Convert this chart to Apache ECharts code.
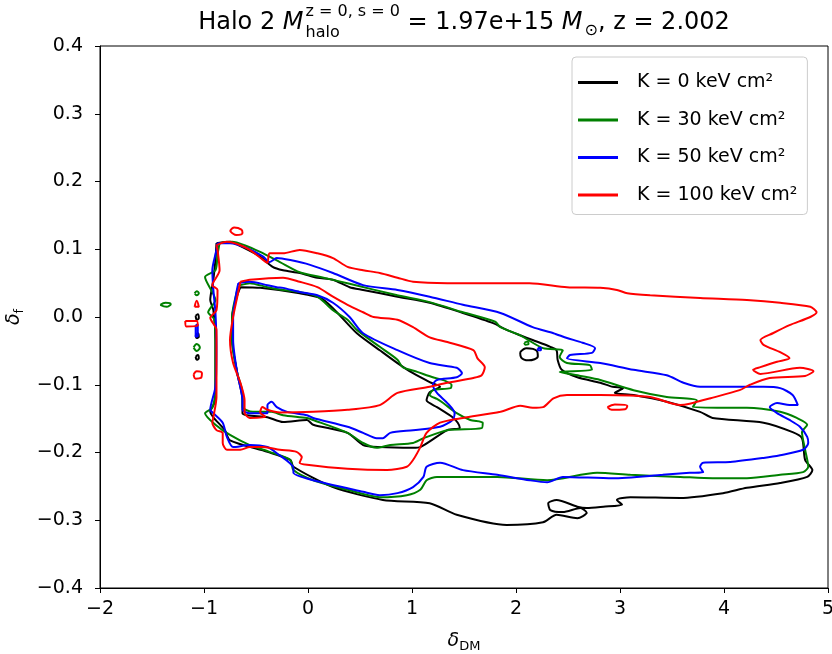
<!DOCTYPE html>
<html>
<head>
<meta charset="UTF-8">
<title>Halo 2 contours</title>
<style>
  body { margin: 0; background: #fff; }
  #chart { width: 832px; height: 654px; }
</style>
<script src="https://cdn.jsdelivr.net/npm/echarts@6/dist/echarts.min.js"></script>
</head>
<body>
<div id="chart"></div>
<script>
// legend labels, one per entropy floor
var labels = ['K = 0 keV cm\u00b2', 'K = 30 keV cm\u00b2', 'K = 50 keV cm\u00b2', 'K = 100 keV cm\u00b2'];
var colors = ['#000000', '#008000', '#0000ff', '#ff0000'];
var xTicks = [-2, -1, 0, 1, 2, 3, 4, 5];
var yTicks = [-0.4, -0.3, -0.2, -0.1, 0.0, 0.1, 0.2, 0.3, 0.4];

// K = 0 contours (delta_DM, delta_f)
var k0Outer = [[-0.88,0.109],[-0.75,0.111],[-0.63,0.103],[-0.46,0.089],[-0.34,0.074],[-0.24,0.069],[-0.08,0.065],[0.09,0.058],[0.24,0.055],[0.40,0.044],[0.53,0.040],[0.86,0.030],[1.17,0.021],[1.49,0.006],[1.78,-0.009],[1.91,-0.019],[2.04,-0.027],[2.16,-0.034],[2.33,-0.044],[2.39,-0.049],[2.40,-0.063],[2.44,-0.078],[2.59,-0.089],[2.81,-0.097],[2.93,-0.103],[3.03,-0.105],[2.95,-0.112],[3.13,-0.115],[3.45,-0.125],[3.77,-0.140],[3.89,-0.149],[4.38,-0.156],[4.66,-0.170],[4.75,-0.179],[4.78,-0.211],[4.85,-0.226],[4.80,-0.236],[4.54,-0.245],[4.22,-0.252],[3.99,-0.260],[3.58,-0.267],[3.10,-0.266],[2.97,-0.270],[3.02,-0.277],[2.84,-0.280],[2.68,-0.282],[2.59,-0.280],[2.39,-0.270],[2.31,-0.275],[2.33,-0.285],[2.45,-0.288],[2.62,-0.282],[2.68,-0.289],[2.59,-0.297],[2.39,-0.292],[2.26,-0.303],[1.91,-0.307],[1.43,-0.292],[1.17,-0.275],[0.72,-0.270],[0.24,-0.251],[-0.14,-0.221],[-0.17,-0.211],[-0.39,-0.199],[-0.75,-0.182],[-0.80,-0.167],[-0.91,-0.148],[-0.94,-0.140],[-0.89,-0.123],[-0.89,-0.078],[-0.89,-0.034],[-0.91,0.010],[-0.94,0.025],[-0.91,0.055],[-0.89,0.084],[-0.88,0.109]];
var k0Inner = [[-0.65,0.044],[-0.46,0.043],[-0.08,0.035],[0.12,0.028],[0.24,0.013],[0.47,-0.024],[0.69,-0.049],[0.86,-0.068],[1.01,-0.083],[1.17,-0.096],[1.27,-0.103],[1.17,-0.111],[1.14,-0.123],[1.24,-0.133],[1.39,-0.148],[1.44,-0.156],[1.46,-0.164],[1.34,-0.167],[1.08,-0.192],[1.01,-0.193],[0.69,-0.192],[0.53,-0.189],[0.38,-0.171],[0.05,-0.159],[-0.01,-0.152],[-0.24,-0.155],[-0.39,-0.148],[-0.63,-0.142],[-0.63,-0.123],[-0.68,-0.083],[-0.73,-0.034],[-0.73,0.000],[-0.68,0.032],[-0.65,0.044]];
var k0Blobs = [
  [[2.04,-0.052],[2.10,-0.046],[2.20,-0.050],[2.21,-0.058],[2.12,-0.064],[2.05,-0.060],[2.04,-0.052]],
  [[-1.08,0.002],[-1.06,0.004],[-1.05,-0.002],[-1.07,-0.004],[-1.08,0.002]],
  [[-1.08,-0.027],[-1.06,-0.024],[-1.05,-0.029],[-1.07,-0.031],[-1.08,-0.027]],
  [[-1.08,-0.059],[-1.06,-0.056],[-1.05,-0.061],[-1.07,-0.063],[-1.08,-0.059]]
];

// K = 30 contours
var k30Outer = [[-0.85,0.109],[-0.73,0.111],[-0.61,0.106],[-0.46,0.096],[-0.27,0.081],[-0.08,0.066],[0.12,0.059],[0.40,0.049],[0.86,0.032],[1.17,0.022],[1.49,0.007],[1.80,-0.007],[1.85,-0.015],[2.04,-0.027],[2.26,-0.046],[2.45,-0.049],[2.42,-0.059],[2.49,-0.068],[2.71,-0.071],[2.73,-0.078],[2.42,-0.081],[2.62,-0.087],[2.81,-0.093],[3.13,-0.108],[3.45,-0.118],[3.74,-0.123],[3.70,-0.133],[4.01,-0.134],[4.22,-0.134],[4.54,-0.140],[4.70,-0.149],[4.80,-0.159],[4.75,-0.170],[4.78,-0.196],[4.81,-0.221],[4.76,-0.229],[4.54,-0.233],[4.22,-0.238],[3.89,-0.238],[3.58,-0.236],[3.10,-0.233],[2.78,-0.230],[2.30,-0.241],[1.82,-0.236],[1.24,-0.236],[1.14,-0.241],[1.08,-0.255],[0.95,-0.263],[0.69,-0.266],[0.38,-0.255],[0.05,-0.241],[-0.14,-0.226],[-0.17,-0.211],[-0.37,-0.199],[-0.56,-0.189],[-0.75,-0.174],[-0.89,-0.159],[-0.99,-0.142],[-0.92,-0.134],[-0.89,-0.108],[-0.89,-0.049],[-0.90,-0.004],[-0.96,0.007],[-0.89,0.025],[-0.99,0.059],[-0.89,0.069],[-0.87,0.092],[-0.85,0.109]];
var k30Inner = [[-0.65,0.047],[-0.56,0.050],[-0.39,0.044],[-0.24,0.040],[-0.08,0.037],[0.09,0.030],[0.24,0.010],[0.38,-0.004],[0.47,-0.019],[0.69,-0.044],[0.86,-0.063],[0.91,-0.074],[1.05,-0.081],[1.20,-0.089],[1.30,-0.093],[1.38,-0.100],[1.37,-0.105],[1.20,-0.108],[1.17,-0.115],[1.24,-0.121],[1.30,-0.127],[1.43,-0.142],[1.56,-0.152],[1.68,-0.156],[1.67,-0.164],[1.34,-0.167],[1.11,-0.179],[1.01,-0.186],[0.79,-0.189],[0.66,-0.193],[0.53,-0.186],[0.38,-0.171],[0.05,-0.152],[-0.01,-0.149],[-0.24,-0.145],[-0.35,-0.140],[-0.53,-0.140],[-0.63,-0.133],[-0.63,-0.112],[-0.68,-0.083],[-0.73,-0.034],[-0.73,0.000],[-0.68,0.040],[-0.65,0.047]];
var k30Blobs = [
  [[-1.42,0.018],[-1.37,0.021],[-1.32,0.019],[-1.36,0.015],[-1.42,0.018]],
  [[-1.09,0.035],[-1.07,0.038],[-1.05,0.035],[-1.07,0.032],[-1.09,0.035]],
  [[-1.10,-0.045],[-1.07,-0.040],[-1.04,-0.045],[-1.07,-0.050],[-1.10,-0.045]],
  [[2.08,-0.038],[2.11,-0.036],[2.12,-0.040],[2.09,-0.041],[2.08,-0.038]]
];

// K = 50 contours
var k50Outer = [[-0.87,0.109],[-0.75,0.109],[-0.59,0.102],[-0.43,0.089],[-0.37,0.081],[-0.30,0.087],[-0.17,0.084],[0.02,0.077],[0.24,0.065],[0.53,0.047],[0.86,0.040],[1.17,0.030],[1.49,0.018],[1.85,0.006],[2.16,-0.015],[2.36,-0.024],[2.49,-0.031],[2.64,-0.038],[2.76,-0.046],[2.73,-0.053],[2.52,-0.056],[2.49,-0.061],[2.81,-0.068],[3.13,-0.078],[3.45,-0.086],[3.61,-0.097],[3.77,-0.103],[4.06,-0.103],[4.38,-0.103],[4.54,-0.105],[4.66,-0.115],[4.71,-0.130],[4.63,-0.130],[4.51,-0.127],[4.44,-0.133],[4.51,-0.142],[4.63,-0.152],[4.73,-0.162],[4.80,-0.177],[4.81,-0.186],[4.76,-0.196],[4.54,-0.204],[4.38,-0.208],[4.06,-0.214],[3.80,-0.215],[3.77,-0.221],[3.80,-0.229],[3.67,-0.230],[3.41,-0.233],[2.93,-0.238],[2.45,-0.236],[2.30,-0.244],[2.13,-0.241],[1.82,-0.233],[1.49,-0.226],[1.27,-0.215],[1.14,-0.221],[1.11,-0.236],[1.01,-0.251],[0.86,-0.260],[0.69,-0.263],[0.53,-0.258],[0.05,-0.241],[-0.14,-0.230],[-0.14,-0.223],[-0.30,-0.201],[-0.39,-0.192],[-0.56,-0.189],[-0.72,-0.192],[-0.78,-0.177],[-0.82,-0.156],[-0.91,-0.142],[-0.94,-0.137],[-0.89,-0.103],[-0.88,-0.044],[-0.89,0.006],[-0.91,0.040],[-0.92,0.069],[-0.88,0.099],[-0.87,0.109]];
var k50Inner = [[-0.67,0.050],[-0.56,0.052],[-0.39,0.047],[-0.30,0.044],[-0.24,0.043],[-0.08,0.037],[0.09,0.032],[0.24,0.021],[0.40,0.000],[0.53,-0.024],[0.86,-0.049],[1.17,-0.068],[1.43,-0.075],[1.48,-0.083],[1.43,-0.089],[1.24,-0.093],[1.20,-0.100],[1.24,-0.112],[1.34,-0.127],[1.41,-0.142],[1.39,-0.152],[1.27,-0.162],[1.01,-0.167],[0.79,-0.171],[0.72,-0.179],[0.66,-0.179],[0.53,-0.171],[0.38,-0.162],[0.05,-0.149],[-0.01,-0.145],[-0.20,-0.140],[-0.30,-0.133],[-0.35,-0.125],[-0.39,-0.130],[-0.39,-0.142],[-0.56,-0.142],[-0.63,-0.137],[-0.63,-0.123],[-0.68,-0.083],[-0.72,-0.034],[-0.72,0.000],[-0.69,0.035],[-0.67,0.050]];
var k50Blobs = [
  [[-1.08,-0.012],[-1.06,-0.011],[-1.06,-0.028],[-1.08,-0.029],[-1.08,-0.012]],
  [[2.21,-0.046],[2.24,-0.045],[2.24,-0.049],[2.21,-0.049],[2.21,-0.046]]
];

// K = 100 contours
var k100Outer = [[-0.88,0.106],[-0.78,0.111],[-0.65,0.106],[-0.56,0.099],[-0.43,0.084],[-0.39,0.080],[-0.37,0.094],[-0.24,0.094],[-0.08,0.099],[0.09,0.094],[0.24,0.087],[0.38,0.074],[0.53,0.069],[0.69,0.065],[0.86,0.058],[1.01,0.052],[1.34,0.050],[1.65,0.050],[2.13,0.050],[2.49,0.044],[2.81,0.043],[2.97,0.040],[3.07,0.035],[3.29,0.032],[3.77,0.028],[4.22,0.025],[4.54,0.021],[4.83,0.015],[4.89,0.007],[4.83,0.000],[4.63,-0.012],[4.47,-0.024],[4.35,-0.034],[4.38,-0.041],[4.54,-0.052],[4.63,-0.061],[4.51,-0.066],[4.35,-0.074],[4.28,-0.078],[4.35,-0.084],[4.73,-0.075],[4.86,-0.080],[4.78,-0.087],[4.44,-0.090],[4.25,-0.100],[4.15,-0.108],[3.87,-0.120],[3.67,-0.128],[3.58,-0.130],[3.29,-0.118],[2.81,-0.115],[2.49,-0.115],[2.36,-0.120],[2.26,-0.133],[2.16,-0.134],[2.04,-0.131],[1.85,-0.140],[1.49,-0.149],[1.27,-0.156],[1.14,-0.171],[1.08,-0.192],[1.01,-0.211],[0.95,-0.221],[0.76,-0.226],[0.38,-0.224],[-0.01,-0.218],[-0.08,-0.215],[-0.06,-0.207],[-0.11,-0.199],[-0.27,-0.196],[-0.43,-0.192],[-0.56,-0.192],[-0.65,-0.196],[-0.78,-0.196],[-0.82,-0.186],[-0.82,-0.171],[-0.88,-0.167],[-0.92,-0.156],[-0.91,-0.148],[-0.88,-0.118],[-0.88,-0.068],[-0.88,-0.019],[-0.94,-0.001],[-0.88,0.010],[-0.87,0.040],[-0.92,0.047],[-0.85,0.069],[-0.87,0.099],[-0.88,0.106]];
var k100Inner = [[-0.65,0.052],[-0.56,0.055],[-0.24,0.058],[-0.08,0.052],[0.09,0.044],[0.24,0.030],[0.38,0.018],[0.53,0.007],[0.63,0.000],[0.86,-0.004],[1.01,-0.015],[1.17,-0.030],[1.34,-0.037],[1.59,-0.049],[1.63,-0.061],[1.70,-0.074],[1.67,-0.086],[1.59,-0.090],[1.34,-0.097],[1.17,-0.103],[0.86,-0.112],[0.69,-0.130],[0.38,-0.137],[0.05,-0.140],[-0.27,-0.141],[-0.39,-0.137],[-0.44,-0.133],[-0.46,-0.141],[-0.41,-0.147],[-0.56,-0.149],[-0.61,-0.141],[-0.61,-0.123],[-0.65,-0.097],[-0.72,-0.068],[-0.75,-0.034],[-0.72,0.000],[-0.68,0.030],[-0.65,0.052]];
var k100Blobs = [
  [[-0.75,0.127],[-0.71,0.132],[-0.64,0.129],[-0.63,0.124],[-0.69,0.121],[-0.75,0.127]],
  [[-1.18,-0.006],[-1.07,-0.006],[-1.06,-0.013],[-1.17,-0.014],[-1.18,-0.006]],
  [[-1.10,-0.085],[-1.07,-0.080],[-1.02,-0.083],[-1.03,-0.090],[-1.08,-0.091],[-1.10,-0.085]],
  [[-1.09,0.015],[-1.07,0.024],[-1.05,0.015],[-1.09,0.015]],
  [[2.88,-0.133],[2.95,-0.129],[3.07,-0.131],[3.05,-0.136],[2.92,-0.137],[2.88,-0.133]]
];

var groups = [
  [k0Outer, k0Inner].concat(k0Blobs),
  [k30Outer, k30Inner].concat(k30Blobs),
  [k50Outer, k50Inner].concat(k50Blobs),
  [k100Outer, k100Inner].concat(k100Blobs)
];

var series = [];
groups.forEach(function (lines, i) {
  lines.forEach(function (pts, j) {
    series.push({
      type: 'line',
      name: labels[i],
      data: pts,
      symbol: 'none',
      smooth: j < 2 ? 0.25 : 0.4,
      lineStyle: { color: colors[i], width: 2 },
      itemStyle: { color: colors[i] },
      silent: true
    });
  });
});

function fmt(v) {
  return String(v).replace('-', '\u2212');
}

var font = 'DejaVu Sans';

// title pieces laid out left to right, centred over the plot
var ctx = document.createElement('canvas').getContext('2d');
function textW(f, s) { ctx.font = f; return ctx.measureText(s).width; }
var fMain = '24px "DejaVu Sans"', fIt = 'italic 24px "DejaVu Sans"', fSmall = '16px "DejaVu Sans"';
var pieces = [
  { t: 'Halo 2 ', f: fMain, y: 23 },
  { t: 'M', f: fIt, y: 23 },
  { stack: true },
  { t: ' = 1.97e+15 ', f: fMain, y: 23 },
  { t: 'M', f: fIt, y: 23 },
  { t: '\u2299', f: fSmall, y: 31, gap: 2 },
  { t: ', z = 2.002', f: fMain, y: 23 }
];
var supW = textW(fSmall, 'z = 0, s = 0');
var total = 0;
pieces.forEach(function (p) {
  p.w = p.stack ? supW + 2 : textW(p.f, p.t) + (p.gap || 0);
  total += p.w;
});
var cursor = 464 - total / 2;
var titleEls = [];
pieces.forEach(function (p) {
  if (p.stack) {
    titleEls.push({ type: 'text', x: cursor + 2, y: 12, style: { text: 'z = 0, s = 0', font: fSmall, fill: '#000', verticalAlign: 'middle' } });
    titleEls.push({ type: 'text', x: cursor + 2, y: 33, style: { text: 'halo', font: fSmall, fill: '#000', verticalAlign: 'middle' } });
  } else {
    titleEls.push({ type: 'text', x: cursor + (p.gap || 0), y: p.y, style: { text: p.t, font: p.f, fill: '#000', verticalAlign: 'middle' } });
  }
  cursor += p.w;
});

var chart = echarts.init(document.getElementById('chart'));
chart.setOption({
  animation: false,
  backgroundColor: '#fff',
  grid: { left: 100, right: 4, top: 46, bottom: 66, show: true, borderColor: '#000', borderWidth: 1, containLabel: false, outerBoundsMode: 'none' },
  legend: {
    data: labels,
    orient: 'vertical',
    left: 572,
    top: 57,
    padding: [16, 10, 10, 6],
    icon: 'rect',
    itemWidth: 40,
    itemHeight: 3,
    itemGap: 18.5,
    backgroundColor: '#fff',
    borderColor: '#ccc',
    borderWidth: 1,
    borderRadius: 4,
    textStyle: { fontFamily: font, fontSize: 19, color: '#000', padding: [0, 0, 0, 14] }
  },
  xAxis: {
    type: 'value', min: -2, max: 5, interval: 1,
    axisLine: { onZero: false, lineStyle: { color: '#000' } },
    axisTick: { length: 5, lineStyle: { color: '#000' } },
    axisLabel: { fontFamily: font, fontSize: 19, color: '#000', margin: 12, formatter: function (v) { return fmt(v); } },
    splitLine: { show: false },
    name: '{d|\u03b4}{s|DM}',
    nameLocation: 'middle',
    nameGap: 42,
    nameTextStyle: { rich: { d: { fontFamily: font, fontSize: 19, fontStyle: 'italic', color: '#000' }, s: { fontFamily: font, fontSize: 13, color: '#000', padding: [10, 0, 0, 0] } } }
  },
  yAxis: {
    type: 'value', min: -0.4, max: 0.4, interval: 0.1,
    axisLine: { onZero: false, lineStyle: { color: '#000' } },
    axisTick: { length: 5, lineStyle: { color: '#000' } },
    axisLabel: { fontFamily: font, fontSize: 19, color: '#000', margin: 17, formatter: function (v) { return fmt(v.toFixed(1)); } },
    splitLine: { show: false },
    name: '{d|\u03b4}{s|f}',
    nameLocation: 'middle',
    nameRotate: 90,
    nameGap: 69,
    nameTextStyle: { rich: { d: { fontFamily: font, fontSize: 19, fontStyle: 'italic', color: '#000' }, s: { fontFamily: font, fontSize: 13, color: '#000', padding: [10, 0, 0, 0] } } }
  },
  graphic: titleEls,
  series: series
});
</script>
</body>
</html>
